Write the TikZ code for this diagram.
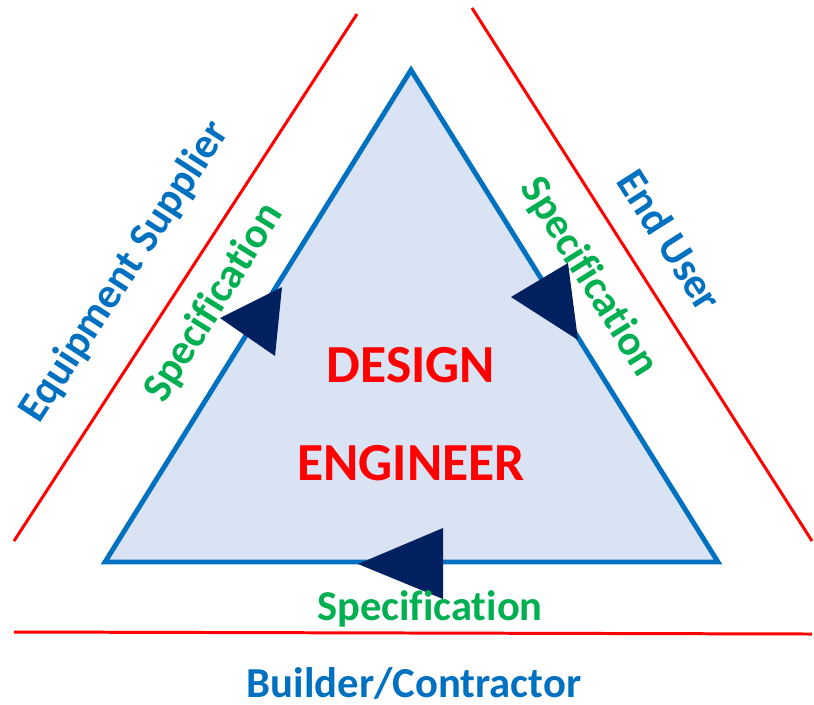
\documentclass[tikz,border=0pt]{standalone}
\usepackage{fontspec}
\setmainfont{Carlito}[Ligatures=NoCommon]
\definecolor{triblue}{RGB}{0,112,192}
\definecolor{trifill}{RGB}{218,227,243}
\definecolor{navy}{RGB}{0,32,96}
\definecolor{specgreen}{RGB}{0,176,80}
\tikzset{
	party/.style={text=triblue, font=\fontsize{24.3}{28}\selectfont\bfseries},
	spec/.style={text=specgreen, font=\fontsize{24.2}{28}\selectfont\bfseries},
	role/.style={text=red, font=\fontsize{30.5}{36}\selectfont\bfseries},
	border/.style={red, line width=1.7pt},
	flow/.style={fill=navy, draw=none}
}
\begin{document}
\begin{tikzpicture}[x=0.02cm, y=-0.02cm]

	\useasboundingbox (0,0) rectangle (814,704);

	% outer boundaries
	\draw[border] (14,541) -- (357,14);
	\draw[border] (472,8) -- (812,541);
	\draw[border] (14,632) -- (812,634);

	% the engineer's triangle
	\coordinate (top) at (411,70);
	\coordinate (bl) at (105,562);
	\coordinate (br) at (718,562);
	\draw[triblue, fill=trifill, line width=2.8pt] (top) -- (br) -- (bl) -- cycle;

	\node[role] (design) at (411,365) {DESIGN};
	\node[role] (engineer) at (411,463) {ENGINEER};

	% specification arrows
	\fill[flow] (220,318) -- (282,287) -- (275,356) -- cycle;
	\fill[flow] (511,297) -- (568,263) -- (578,340) -- cycle;
	\fill[flow] (358,564) -- (443,528) -- (443,599) -- cycle;

	\node[spec, rotate=58] (specl) at (214,303) {Specification};
	\node[spec, rotate=-58] (specr) at (589,277) {Specification};
	\node[spec] (specb) at (430,609) {Specification};

	\node[party, rotate=57] (supplier) at (125,272) {Equipment Supplier};
	\node[party, rotate=-57.5] (user) at (670,240) {End User};
	\node[party] (builder) at (414,683) {Builder/Contractor};

\end{tikzpicture}
\end{document}
